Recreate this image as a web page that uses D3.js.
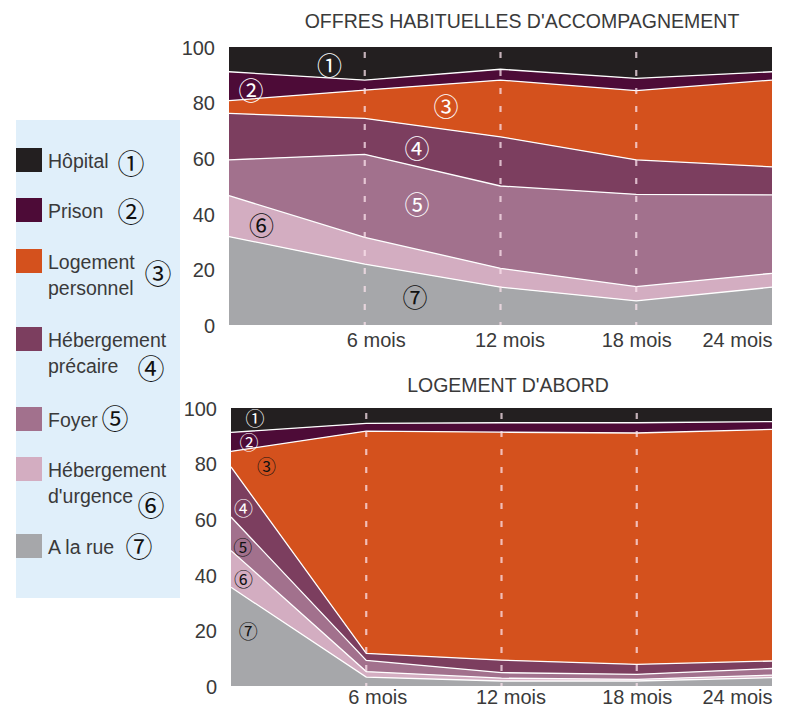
<!DOCTYPE html>
<html><head><meta charset="utf-8">
<script src="https://cdn.jsdelivr.net/npm/d3@7"></script>
<style>
body{margin:0;background:#fff}
svg{display:block}
text{font-family:"Liberation Sans",Arial,sans-serif}
.circ{font-family:"Noto Sans CJK JP","Noto Sans CJK SC","DejaVu Sans",sans-serif}
</style>
</head><body>
<svg id="c" width="789" height="709"></svg>
<script>
// ---------- data ----------
const months = [0, 6, 12, 18, 24];
const monthLabels = ["6 mois", "12 mois", "18 mois", "24 mois"];
const yTicks = [0, 20, 40, 60, 80, 100];
const seriesKeys = ["rue", "urgence", "foyer", "precaire", "logement", "prison", "hopital"]; // stacking order, bottom to top
const legendLabels = [["Hôpital"], ["Prison"], ["Logement", "personnel"], ["Hébergement", "précaire"], ["Foyer"], ["Hébergement", "d'urgence"], ["A la rue"]];
const circled = ["①", "②", "③", "④", "⑤", "⑥", "⑦"];
const titles = ["OFFRES HABITUELLES D'ACCOMPAGNEMENT", "LOGEMENT D'ABORD"];

// Offres habituelles d'accompagnement (% at 0, 6, 12, 18, 24 months)
const offresHopital  = [8.9, 11.9, 8.0, 11.3, 8.9];
const offresPrison   = [10.4, 3.6, 3.9, 4.4, 3.0];
const offresLogement = [4.6, 10.2, 20.4, 24.9, 31.2];
const offresPrecaire = [16.7, 12.9, 17.7, 12.4, 10.1];
const offresFoyer    = [12.9, 29.9, 29.6, 33.2, 28.2];
const offresUrgence  = [14.7, 9.6, 6.8, 5.1, 5.0];
const offresRue      = [31.8, 21.9, 13.6, 8.7, 13.6];

// Logement d'abord
const abordHopital  = [8.8, 5.5, 5.3, 5.3, 4.9];
const abordPrison   = [6.8, 2.8, 3.4, 3.7, 2.8];
const abordLogement = [5.6, 80.0, 82.0, 83.2, 83.3];
const abordPrecaire = [18.0, 2.5, 4.5, 3.6, 2.7];
const abordFoyer    = [12.1, 4.0, 2.0, 1.8, 2.4];
const abordUrgence  = [13.2, 2.0, 1.0, 0.6, 0.9];
const abordRue      = [35.5, 3.2, 1.8, 1.8, 3.0];

// ---------- style ----------
const colors = {hopital:"#231f20", prison:"#4d0b37", logement:"#d4511d", precaire:"#7c3e5f",
                foyer:"#a2718d", urgence:"#d3adc1", rue:"#a6a7aa"};
const textColor = "#3a3a3a";

const svg = d3.select("#c");

function buildRows(cols){
  return months.map((m,i)=>{
    const r={month:m};
    seriesKeys.forEach(k=>r[k]=cols[k][i]);
    return r;
  });
}

function drawChart(cfg){
  const rows = buildRows(cfg.cols);
  const x = d3.scaleLinear().domain([0,24]).range(cfg.xr);
  const y = d3.scaleLinear().domain([0,100]).range(cfg.yr);
  const stack = d3.stack().keys(seriesKeys)(rows);
  const g = svg.append("g");

  const area = d3.area().x(d=>x(d.data.month)).y0(d=>y(d[0])).y1(d=>y(d[1]));
  g.selectAll("path.layer").data(stack).join("path")
    .attr("class","layer").attr("d",area).attr("fill",d=>colors[d.key]);

  const line = d3.line().x(d=>x(d.data.month)).y(d=>y(d[1]));
  g.selectAll("path.sep").data(stack.slice(0,-1)).join("path")
    .attr("class","sep").attr("d",line).attr("fill","none")
    .attr("stroke","#fff").attr("stroke-width",1.3);

  // dashed month guides
  g.selectAll("line.guide").data(months.slice(1,-1)).join("line")
    .attr("class","guide")
    .attr("x1",d=>x(d)).attr("x2",d=>x(d))
    .attr("y1",y(100)+5).attr("y2",y(0))
    .attr("stroke","#fbe3ec").attr("stroke-opacity",0.75)
    .attr("stroke-width",2.2).attr("stroke-dasharray","6,12");

  // y axis labels
  const ya = d3.axisLeft(y).tickValues(yTicks).tickSize(0).tickPadding(0).tickFormat(d3.format("d"));
  const yg = g.append("g").attr("transform",`translate(${cfg.xr[0]-14},0)`).call(ya);
  yg.select(".domain").remove();
  yg.selectAll("text").attr("font-size",20).attr("fill",textColor)
    .attr("font-family","'Liberation Sans',Arial,sans-serif").attr("dy","0.36em");

  // x axis labels
  const xa = d3.axisBottom(x).tickValues(months.slice(1)).tickSize(0).tickPadding(0)
    .tickFormat((d,i)=>monthLabels[i]);
  const xg = g.append("g").attr("transform",`translate(0,${cfg.yr[0]+cfg.xLabelGap})`).call(xa);
  xg.select(".domain").remove();
  xg.selectAll("text").attr("font-size",20).attr("fill",textColor)
    .attr("font-family","'Liberation Sans',Arial,sans-serif").attr("dy",0)
    .attr("dx",(d,i)=>[11,9,0,0][i])
    .attr("text-anchor",(d,i)=>i===3?"end":"middle");

  // title
  g.append("text").attr("x",cfg.titleX).attr("y",cfg.titleY)
    .attr("text-anchor","middle").attr("font-size",19.5).attr("fill",textColor)
    .text(cfg.title);

  // circled annotations
  g.selectAll("text.ann").data(cfg.ann).join("text")
    .attr("class","ann circ")
    .attr("x",d=>x(d[0])).attr("y",d=>y(d[1]))
    .attr("text-anchor","middle").attr("dominant-baseline","central")
    .attr("font-size",cfg.annSize)
    .attr("fill",d=>d[2])
    .text((d,i)=>circled[i]);
}

drawChart({
  cols:{hopital:offresHopital,prison:offresPrison,logement:offresLogement,precaire:offresPrecaire,
        foyer:offresFoyer,urgence:offresUrgence,rue:offresRue},
  xr:[229,772], yr:[325,47], xLabelGap:22, title:titles[0], titleX:522, titleY:28, annSize:25,
  ann:[[4.44,94,"#fff"],[0.97,85,"#fff"],[9.59,79.3,"#fff"],[8.31,64.2,"#fff"],
       [8.31,44,"#fff"],[1.44,36.5,"#111"],[8.22,10.6,"#111"]]
});
drawChart({
  cols:{hopital:abordHopital,prison:abordPrison,logement:abordLogement,precaire:abordPrecaire,
        foyer:abordFoyer,urgence:abordUrgence,rue:abordRue},
  xr:[231,772], yr:[686,408], xLabelGap:18, title:titles[1], titleX:508, titleY:392, annSize:19,
  ann:[[1.06,96.7,"#fff"],[0.8,88.0,"#fff"],[1.58,79.2,"#111"],[0.55,64.2,"#fff"],
       [0.52,50.2,"#111"],[0.55,38.7,"#111"],[0.77,19.8,"#111"]]
});

// ---------- legend ----------
const lg = svg.append("g");
lg.append("rect").attr("x",16).attr("y",120).attr("width",164).attr("height",478).attr("fill","#e0effa");
const legendKeys = seriesKeys.slice().reverse();
const legendTop = [148,198,249,327,407,457,534];
const legendCirc = [[131,162],[131,210],[158,272],[151,367],[115,417],[151,504],[139,545]];
const items = lg.selectAll("g.item").data(legendKeys).join("g").attr("class","item");
items.append("rect").attr("x",16).attr("y",(d,i)=>legendTop[i]).attr("width",26).attr("height",24)
  .attr("fill",d=>colors[d]);
items.each(function(d,i){
  const it = d3.select(this);
  legendLabels[i].forEach((t,j)=>{
    it.append("text").attr("x",48).attr("y",legendTop[i]+20+j*26)
      .attr("font-size",19.5).attr("fill",textColor).text(t);
  });
  it.append("text").attr("class","circ")
    .attr("x",legendCirc[i][0]).attr("y",legendCirc[i][1])
    .attr("text-anchor","middle").attr("dominant-baseline","central")
    .attr("font-size",27).attr("fill","#111").text(circled[i]);
});
</script>
</body></html>
